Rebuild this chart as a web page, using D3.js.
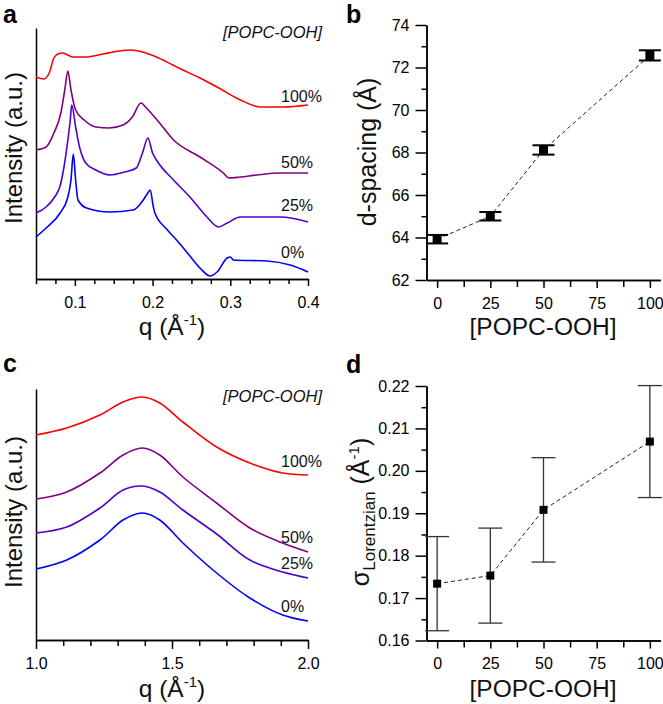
<!DOCTYPE html>
<html><head><meta charset="utf-8">
<script src="https://cdn.jsdelivr.net/npm/d3@7"></script>
<style>body{margin:0;background:#fff}svg{display:block}</style>
</head><body>
<script>
// ---------- DATA ----------
const seriesNames = ["100%", "50%", "25%", "0%"];
const seriesColors = ["#ff0000", "#800080", "#5000c8", "#0000ff"];

// Panel a: SAXS, q (1/Å) and intensity (a.u., offset)
const qA100 = [0.050,0.060,0.067,0.073,0.078,0.084,0.091,0.097,0.114,0.136,0.157,0.172,0.187,0.205,0.226,0.239,0.261,0.283,0.313,0.339,0.368,0.400];
const iA100 = [202,200,206,221,225,226,224,222,222,225,228,229,227,222,214,209,201,192,179,172,172,174];
const qA50 = [0.050,0.063,0.073,0.082,0.087,0.091,0.095,0.101,0.112,0.127,0.144,0.162,0.174,0.185,0.192,0.209,0.227,0.261,0.291,0.298,0.313,0.334,0.365,0.400];
const iA50 = [129,132,146,166,189,208,189,169,159,152,151,154,162,176,171,156,139,122,106,101,102,104,106,106];
const qA25 = [0.050,0.063,0.074,0.081,0.086,0.091,0.094,0.096,0.101,0.106,0.114,0.127,0.145,0.164,0.179,0.187,0.194,0.200,0.205,0.227,0.248,0.270,0.285,0.296,0.313,0.334,0.365,0.400];
const iA25 = [66,72,82,93,112,139,158,174,152,132,116,109,104,107,111,126,141,126,119,99,82,62,52,56,62,62,62,57];
const qA0 = [0.050,0.063,0.081,0.091,0.095,0.098,0.101,0.104,0.115,0.145,0.175,0.188,0.193,0.197,0.201,0.203,0.218,0.232,0.247,0.261,0.274,0.283,0.296,0.300,0.304,0.347,0.377,0.400];
const iA0 = [42,51,66,82,99,125,99,79,71,67,69,79,85,89,72,66,50,38,24,11,3,7,21,22,19,18,14,7];

// Panel c: WAXS
const qC = [1.000,1.113,1.235,1.320,1.391,1.455,1.540,1.664,1.786,1.907,2.000];
const iC100 = [205,212,225,238,243,237,218,193,177,167,165];
const iC50 = [141,148,167,185,192,185,163,137,112,97,88];
const iC25 = [107,113,132,150,154,148,130,106,80,68,62];
const iC0 = [71,80,100,120,127,120,97,67,42,25,19];

// Panels b and d
const conc = [0, 25, 50, 100];
const dSpacing = [63.92, 65.00, 68.12, 72.57];
const dSpacingErr = [0.20, 0.20, 0.22, 0.24];
const sigmaL = [0.1734, 0.1753, 0.1908, 0.2069];
const sigmaLErr = [0.0111, 0.0112, 0.0123, 0.0132];

// Tick values
const ticksAmajor = [0.1, 0.2, 0.3, 0.4];
const ticksAminor = [0.05,0.075,0.125,0.15,0.175,0.225,0.25,0.275,0.325,0.35,0.375];
const ticksCmajor = [1.0, 1.5, 2.0];
const ticksCminor = [1.1,1.2,1.3,1.4,1.6,1.7,1.8,1.9];
const ticksConcMajor = [0, 25, 50, 75, 100];
const ticksConcMinor = [12.5, 37.5, 62.5, 87.5];
const ticksBmajor = [62, 64, 66, 68, 70, 72, 74];
const ticksBminor = [63, 65, 67, 69, 71, 73];
const ticksDmajor = [0.16, 0.17, 0.18, 0.19, 0.20, 0.21, 0.22];
const ticksDminor = [0.165, 0.175, 0.185, 0.195, 0.205, 0.215];

// label anchor intensities (a.u.)
const labelIA = [177, 111, 68, 21];
const labelIC = [173, 97, 71, 28];

// ---------- DRAW ----------
const FONT = "'Liberation Sans', Arial, Helvetica, sans-serif";
const svg = d3.select("body").append("svg").attr("width", 663).attr("height", 704)
  .style("font-family", FONT);

const xA = d3.scaleLinear().domain([0.05, 0.4]).range([36, 308]);
const yA = d3.scaleLinear().domain([0, 251]).range([279, 28]);
const xC = d3.scaleLinear().domain([1, 2]).range([36, 308]);
const yC = d3.scaleLinear().domain([0, 251]).range([640, 389]);
const xB = d3.scaleLinear().domain([-5, 105]).range([426.5, 660.5]);
const yB = d3.scaleLinear().domain([62, 74]).range([280, 25]);
const xD = xB.copy();
const yD = d3.scaleLinear().domain([0.16, 0.22]).range([640.5, 386]);

function styleAxis(g) {
  g.selectAll("path,line").attr("stroke", "#000").attr("stroke-width", 1.5);
  g.selectAll("text").attr("fill", "#000").style("font-size", "16px").style("font-family", FONT);
}
function bottomAxis(xs, y0, majors, minors, fmt, majLen, minLen) {
  const g = svg.append("g").attr("transform", `translate(0,${y0})`);
  g.append("g").call(d3.axisBottom(xs).tickValues(minors).tickSize(minLen).tickSizeOuter(0).tickFormat(() => ""));
  const gm = g.append("g").call(d3.axisBottom(xs).tickValues(majors).tickSize(majLen).tickSizeOuter(0).tickFormat(fmt));
  styleAxis(g);
  gm.selectAll("text").attr("y", 28.5).attr("dy", 0);
}
function leftAxis(ys, x0, majors, minors, fmt, majLen, minLen) {
  const g = svg.append("g").attr("transform", `translate(${x0},0)`);
  g.append("g").call(d3.axisLeft(ys).tickValues(minors).tickSize(minLen).tickSizeOuter(0).tickFormat(() => ""));
  const gm = g.append("g").call(d3.axisLeft(ys).tickValues(majors).tickSize(majLen).tickSizeOuter(0).tickFormat(fmt));
  styleAxis(g);
  gm.selectAll("text").attr("x", -17);
}
function plainLeft(ys, x0) {
  const g = svg.append("g").attr("transform", `translate(${x0},0)`);
  g.call(d3.axisLeft(ys).tickValues([]).tickSizeOuter(0));
  styleAxis(g);
}

// Panel a
bottomAxis(xA, 279, ticksAmajor, ticksAminor, d3.format(".1f"), 7, 5);
plainLeft(yA, 36);
const seriesA = [[qA100, iA100], [qA50, iA50], [qA25, iA25], [qA0, iA0]];
const lineA = d3.line().x(d => xA(d[0])).y(d => yA(d[1])).curve(d3.curveMonotoneX);
seriesA.forEach((s, k) => {
  svg.append("path").datum(d3.zip(s[0], s[1])).attr("d", lineA)
    .attr("fill", "none").attr("stroke", seriesColors[k]).attr("stroke-width", 1.6);
  svg.append("text").attr("x", 281).attr("y", yA(labelIA[k])).text(seriesNames[k])
    .style("font-size", "16px").attr("fill", "#111");
});
svg.append("text").attr("x", 322).attr("y", 38).attr("text-anchor", "end")
  .style("font-size", "16.5px").style("font-style", "italic").attr("fill", "#111").text("[POPC-OOH]");

// Panel c
bottomAxis(xC, 640, ticksCmajor, ticksCminor, d3.format(".1f"), 9, 6);
plainLeft(yC, 36);
const seriesC = [iC100, iC50, iC25, iC0];
const lineC = d3.line().x(d => xC(d[0])).y(d => yC(d[1])).curve(d3.curveCatmullRom.alpha(0.5));
seriesC.forEach((s, k) => {
  svg.append("path").datum(d3.zip(qC, s)).attr("d", lineC)
    .attr("fill", "none").attr("stroke", seriesColors[k]).attr("stroke-width", 1.6);
  svg.append("text").attr("x", 281).attr("y", yC(labelIC[k])).text(seriesNames[k])
    .style("font-size", "16px").attr("fill", "#111");
});
svg.append("text").attr("x", 322).attr("y", 402).attr("text-anchor", "end")
  .style("font-size", "16.5px").style("font-style", "italic").attr("fill", "#111").text("[POPC-OOH]");

// Panel b
bottomAxis(xB, 280, ticksConcMajor, ticksConcMinor, d3.format("d"), 8, 7);
leftAxis(yB, 426.5, ticksBmajor, ticksBminor, d3.format("d"), 11, 5);
const ptsB = d3.zip(conc, dSpacing, dSpacingErr);
svg.append("path").datum(ptsB).attr("d", d3.line().x(d => xB(d[0])).y(d => yB(d[1])))
  .attr("fill", "none").attr("stroke", "#222").attr("stroke-width", 1).attr("stroke-dasharray", "4,3");
ptsB.forEach(d => {
  const x = xB(d[0]);
  svg.append("line").attr("x1", x).attr("x2", x).attr("y1", yB(d[1] - d[2])).attr("y2", yB(d[1] + d[2])).attr("stroke", "#000").attr("stroke-width", 1.5);
  [d[1] - d[2], d[1] + d[2]].forEach(v => svg.append("line").attr("x1", x - 11).attr("x2", x + 11)
    .attr("y1", yB(v)).attr("y2", yB(v)).attr("stroke", "#000").attr("stroke-width", 2));
  svg.append("rect").attr("x", x - 4.5).attr("y", yB(d[1]) - 4.5).attr("width", 9).attr("height", 9).attr("fill", "#000");
});

// Panel d
bottomAxis(xD, 640.5, ticksConcMajor, ticksConcMinor, d3.format("d"), 8, 7);
leftAxis(yD, 426.5, ticksDmajor, ticksDminor, d3.format(".2f"), 11, 5);
const ptsD = d3.zip(conc, sigmaL, sigmaLErr);
svg.append("path").datum(ptsD).attr("d", d3.line().x(d => xD(d[0])).y(d => yD(d[1])))
  .attr("fill", "none").attr("stroke", "#222").attr("stroke-width", 1).attr("stroke-dasharray", "4,3");
ptsD.forEach(d => {
  const x = xD(d[0]);
  svg.append("line").attr("x1", x).attr("x2", x).attr("y1", yD(d[1] - d[2])).attr("y2", yD(d[1] + d[2])).attr("stroke", "#333").attr("stroke-width", 1.3);
  [d[1] - d[2], d[1] + d[2]].forEach(v => svg.append("line").attr("x1", x - 12).attr("x2", x + 12)
    .attr("y1", yD(v)).attr("y2", yD(v)).attr("stroke", "#333").attr("stroke-width", 1.3));
  svg.append("rect").attr("x", x - 4).attr("y", yD(d[1]) - 4).attr("width", 8).attr("height", 8).attr("fill", "#000");
});

// Titles
function qTitle(cx, by) {
  const t = svg.append("text").attr("x", cx).attr("y", by).attr("text-anchor", "middle").style("font-size", "24.5px").attr("fill", "#111");
  t.append("tspan").text("q (Å");
  t.append("tspan").attr("dy", -10).style("font-size", "15px").text("-1");
  t.append("tspan").attr("dy", 10).text(")");
}
qTitle(172, 334.5);
qTitle(172, 697);
[[543, 334.5], [543, 696.5]].forEach(p => svg.append("text").attr("x", p[0]).attr("y", p[1])
  .attr("text-anchor", "middle").style("font-size", "24.5px").attr("fill", "#111").text("[POPC-OOH]"));

[[22, 148], [22, 512]].forEach(p => svg.append("text").attr("transform", `translate(${p[0]},${p[1]}) rotate(-90)`)
  .attr("text-anchor", "middle").style("font-size", "24px").attr("fill", "#111").text("Intensity (a.u.)"));
svg.append("text").attr("transform", "translate(376,152) rotate(-90)")
  .attr("text-anchor", "middle").style("font-size", "25px").attr("fill", "#111").text("d-spacing (Å)");
const tD = svg.append("text").attr("transform", "translate(369,512) rotate(-90)")
  .attr("text-anchor", "middle").style("font-size", "25px").attr("fill", "#111");
tD.append("tspan").text("σ");
tD.append("tspan").attr("dy", 6).style("font-size", "17px").text("Lorentzian");
tD.append("tspan").attr("dy", -6).text(" (Å");
tD.append("tspan").attr("dy", -10).style("font-size", "15px").text("-1");
tD.append("tspan").attr("dy", 10).text(")");

// Panel letters
[["a", 3, 22.7], ["b", 346, 22.7], ["c", 3, 372], ["d", 346, 373]].forEach(p =>
  svg.append("text").attr("x", p[1]).attr("y", p[2]).style("font-size", "25px").style("font-weight", "bold").attr("fill", "#000").text(p[0]));
</script>
</body></html>
